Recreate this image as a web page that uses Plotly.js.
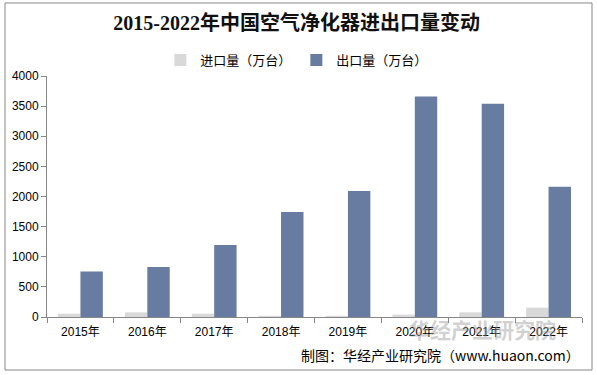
<!DOCTYPE html>
<html><head><meta charset="utf-8">
<script src="https://cdn.plot.ly/plotly-3.0.1.min.js"></script>
<style>body{margin:0;padding:0;background:#fff}#chart{width:597px;height:375px}</style>
</head><body><div id="chart"></div>
<script>
const years = ['2015年','2016年','2017年','2018年','2019年','2020年','2021年','2022年'];
const importVals = [55, 77, 55, 20, 20, 40, 77, 155];
const exportVals = [757, 830, 1195, 1743, 2091, 3661, 3540, 2163];
const seriesNames = ['进口量（万台）', '出口量（万台）'];
const yTicks = [0, 500, 1000, 1500, 2000, 2500, 3000, 3500, 4000];

const fontBase = 'Liberation Sans, Arial, Noto Sans CJK SC, sans-serif';
const data = [
  {type:'bar', name:seriesNames[0], x:years, y:importVals, marker:{color:'#D9D9D9'}},
  {type:'bar', name:seriesNames[1], x:years, y:exportVals, marker:{color:'#687BA0'}}
];
const layout = {
  width:597, height:375,
  margin:{l:47, r:15, t:76, b:58},
  paper_bgcolor:'#fff', plot_bgcolor:'#fff',
  barmode:'group', bargap:0.33, bargroupgap:0,
  font:{family:fontBase, size:12, color:'#000'},
  title:{text:'<b>2015-2022年中国空气净化器进出口量变动</b>', x:0.497, xref:'container', y:0.94, yanchor:'middle',
         font:{family:'Liberation Serif, Noto Sans CJK SC, serif', size:20, color:'#111'}},
  showlegend:true,
  legend:{orientation:'h', x:0.467, xanchor:'center', xref:'paper', y:1.066, yanchor:'middle',
          font:{family:'Noto Sans CJK SC, sans-serif', size:13, color:'#000'}, itemwidth:30, traceorder:'normal'},
  xaxis:{type:'category', showline:true, linecolor:'#868686', linewidth:1, ticks:'outside', tickson:'boundaries',
         ticklen:5, tickcolor:'#868686', showgrid:false, zeroline:false, ticklabelstandoff:4,
         tickfont:{family:fontBase, size:12, color:'#000'}},
  yaxis:{range:[0,4000], tickvals:yTicks, showline:true, linecolor:'#868686', linewidth:1, ticks:'outside', ticklen:5,
         tickcolor:'#868686', showgrid:false, zeroline:false, tickfont:{family:fontBase, size:12, color:'#000'}},
  shapes:[{type:'rect', xref:'paper', yref:'paper', x0:-0.0785, x1:1.0187, y0:-0.22, y1:1.303,
           line:{color:'#868686', width:1}, fillcolor:'rgba(0,0,0,0)'}],
  annotations:[
    {text:'制图：华经产业研究院（www.huaon.com）', xref:'paper', yref:'paper', x:1.0, xanchor:'right',
     y:-0.158, yanchor:'middle', showarrow:false, font:{family:'Noto Sans CJK SC, sans-serif', size:14, color:'#000'}},
    {text:'<b>华经产业研究院</b>', xref:'paper', yref:'paper', x:0.955, xanchor:'right', y:-0.05, yanchor:'middle',
     showarrow:false, font:{family:'Noto Sans CJK SC, sans-serif', size:21, color:'rgba(150,150,150,0.45)'}}
  ]
};
Plotly.newPlot('chart', data, layout, {displayModeBar:false, staticPlot:true});
</script></body></html>
